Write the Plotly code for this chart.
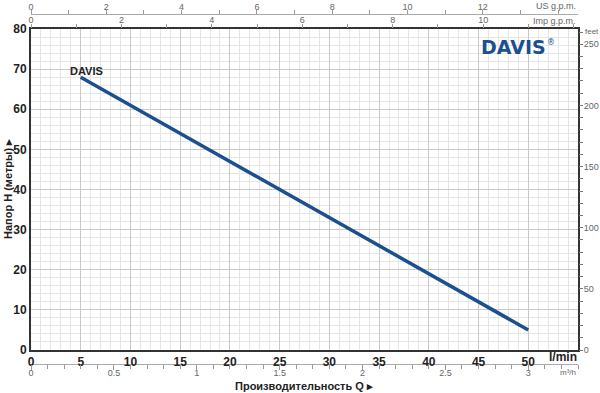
import plotly.graph_objects as go

# ---- data ----
flow_lmin = [5, 10, 15, 20, 25, 30, 35, 40, 45, 50]
head_m = [68, 61, 54, 47, 40, 33, 26, 19, 12, 5]
x_ticks = [0, 5, 10, 15, 20, 25, 30, 35, 40, 45, 50]
y_ticks = [0, 10, 20, 30, 40, 50, 60, 70, 80]
us_ticks = [0, 2, 4, 6, 8, 10, 12]
imp_ticks = [0, 2, 4, 6, 8, 10]
m3h_ticks = [0, 0.5, 1, 1.5, 2, 2.5, 3]
m3h_labels = ["0", "0.5", "1", "1.5", "2", "2.5", "3"]
feet_ticks = [0, 50, 100, 150, 200, 250]

XMAX = 55
YMAX = 80
US = 3.78541
IMP = 4.54609
M3H = 16.6667
FT = 3.28084

W, H = 600, 393
L, R, T, B = 31, 22, 5, 5
PW = W - L - R
PH = H - T - B


def px(xp):
    return (xp - L) / PW


def py(yp):
    return (H - B - yp) / PH


y_dom = [py(350), py(29)]

MAJ = "#c9c9c9"
MIN = "#e6e6e6"
BLUE = "#1b4f8e"
DARK = "#333333"
GRAY = "#666666"
NARROW = "Liberation Sans Narrow, Liberation Sans, Arial, sans-serif"
small = dict(family=NARROW, size=9, color=GRAY)
bold = dict(family=NARROW, size=12, color="#222222", weight="bold")

fig = go.Figure()
fig.add_trace(go.Scatter(x=flow_lmin, y=head_m, mode="lines",
                         line=dict(color=BLUE, width=3.5),
                         hoverinfo="skip", showlegend=False))
# invisible helper traces so each secondary axis is drawn
fig.add_trace(go.Scatter(x=[v / IMP for v in flow_lmin], y=head_m, xaxis="x2", yaxis="y",
                         mode="markers", marker=dict(opacity=0), hoverinfo="skip", showlegend=False))
fig.add_trace(go.Scatter(x=[v / US for v in flow_lmin], y=head_m, xaxis="x3", yaxis="y",
                         mode="markers", marker=dict(opacity=0), hoverinfo="skip", showlegend=False))
fig.add_trace(go.Scatter(x=[v / M3H for v in flow_lmin], y=head_m, xaxis="x4", yaxis="y",
                         mode="markers", marker=dict(opacity=0), hoverinfo="skip", showlegend=False))
fig.add_trace(go.Scatter(x=flow_lmin, y=[v * FT for v in head_m], xaxis="x", yaxis="y2",
                         mode="markers", marker=dict(opacity=0), hoverinfo="skip", showlegend=False))

fig.update_layout(
    width=W, height=H,
    margin=dict(l=L, r=R, t=T, b=B, autoexpand=False),
    paper_bgcolor="white", plot_bgcolor="white",
    xaxis=dict(range=[0, XMAX], tickmode="array", tickvals=x_ticks,
               showgrid=True, gridcolor=MAJ, gridwidth=1,
               minor=dict(tickmode="linear", tick0=0, dtick=1, showgrid=True, gridcolor=MIN, gridwidth=1),
               showline=True, linecolor=DARK, linewidth=2, mirror=True,
               ticks="", tickfont=bold, zeroline=False, fixedrange=True, automargin=False),
    yaxis=dict(domain=y_dom, range=[0, YMAX], tickmode="array", tickvals=y_ticks,
               showgrid=True, gridcolor=MAJ, gridwidth=1,
               minor=dict(tickmode="linear", tick0=0, dtick=2, showgrid=True, gridcolor=MIN, gridwidth=1),
               showline=True, linecolor=DARK, linewidth=2, mirror=True,
               ticks="", tickfont=bold, zeroline=False, fixedrange=True, automargin=False),
    xaxis2=dict(overlaying="x", anchor="y", side="top", range=[0, XMAX / IMP],
                tickmode="array", tickvals=imp_ticks, ticks="outside", ticklen=4,
                tickcolor="#999999", tickfont=small, showgrid=False, showline=False,
                zeroline=False, automargin=False, ticklabelstandoff=-3,
                minor=dict(tickmode="linear", tick0=0, dtick=1, ticks="outside", ticklen=4,
                           tickcolor="#999999", showgrid=False)),
    xaxis3=dict(overlaying="x", anchor="free", position=py(13.5), side="top",
                range=[0, XMAX / US], tickmode="array", tickvals=us_ticks,
                ticks="outside", ticklen=4, tickcolor="#999999", tickfont=small,
                showgrid=False, showline=True, linecolor="#aaaaaa", linewidth=1, zeroline=False,
                automargin=False, ticklabelstandoff=-4,
                minor=dict(tickmode="linear", tick0=0, dtick=1, ticks="outside", ticklen=4,
                           tickcolor="#999999", showgrid=False)),
    xaxis4=dict(overlaying="x", anchor="free", position=py(363.5), side="bottom",
                range=[0, XMAX / M3H], tickmode="array", tickvals=m3h_ticks, ticktext=m3h_labels,
                ticks="outside", ticklen=5, tickcolor="#999999", tickfont=small,
                showgrid=False, showline=True, linecolor="#aaaaaa", linewidth=1, zeroline=False,
                automargin=False, ticklabelstandoff=-4,
                minor=dict(tickmode="linear", tick0=0, dtick=0.1, ticks="outside", ticklen=4,
                           tickcolor="#999999", showgrid=False)),
    yaxis2=dict(overlaying="y", anchor="x", side="right", range=[0, YMAX * FT],
                tickmode="array", tickvals=feet_ticks, ticks="outside", ticklen=4,
                tickcolor="#777777", tickfont=small, showgrid=False, showline=False,
                zeroline=False, automargin=False, ticklabelstandoff=-1,
                minor=dict(tickmode="linear", tick0=0, dtick=10, ticks="outside", ticklen=4,
                           tickcolor="#777777", showgrid=False)),
)

ann = [
    dict(x=px(8), y=py(189), text="Напор H (метры) ▸", textangle=-90,
         font=dict(family=NARROW, size=11, color="#222222", weight="bold")),
    dict(x=px(304), y=py(386), text="Производительность Q ▸",
         font=dict(family=NARROW, size=11, color="#222222", weight="bold")),
    dict(x=px(579), y=py(357), text="l/min", xanchor="right", font=bold),
    dict(x=px(578), y=py(372), text="m³/h", xanchor="right", font=dict(family=NARROW, size=8, color=GRAY)),
    dict(x=px(578), y=py(6), text="US g.p.m.", xanchor="right", font=small),
    dict(x=px(578), y=py(21), text="Imp g.p.m.", xanchor="right", font=small),
    dict(x=px(583), y=py(31), text="feet", xanchor="left", font=dict(family=NARROW, size=8, color=GRAY)),
    dict(x=px(68), y=py(71), text="DAVIS", xanchor="left",
         font=dict(family="Liberation Sans, Arial, sans-serif", size=11, color="#222222", weight="bold")),
    dict(x=px(479), y=py(47), text="DAVIS", xanchor="left",
         font=dict(family="DejaVu Sans, sans-serif", size=19, color=BLUE, weight="bold")),
    dict(x=px(545), y=py(42), text="®", xanchor="left",
         font=dict(family="DejaVu Sans, sans-serif", size=8, color=BLUE)),
]
for a in ann:
    a.update(xref="paper", yref="paper", showarrow=False)
    a.setdefault("xanchor", "center")
    a.setdefault("yanchor", "middle")
fig.update_layout(annotations=ann)

fig.write_html("out.html")
